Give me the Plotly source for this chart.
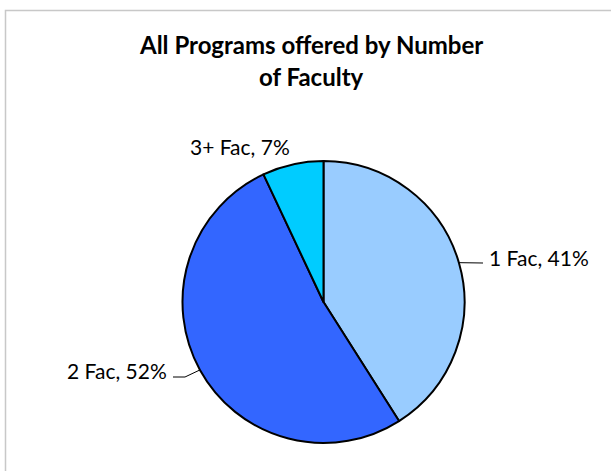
import math
import plotly.graph_objects as go

labels = ["1 Fac", "2 Fac", "3+ Fac"]
values = [41, 52, 7]
colors = ["#99CCFF", "#3366FF", "#00CCFF"]
title_lines = ["All Programs offered by Number", "of Faculty"]

W, H = 611, 471
CX, CY, R = 323.5, 302, 141


def px(x):
    return x / W


def py(y):
    return 1 - y / H


fig = go.Figure(go.Pie(
    labels=labels,
    values=values,
    sort=False,
    direction="clockwise",
    rotation=0,
    marker=dict(colors=colors, line=dict(color="black", width=2)),
    textinfo="none",
    hoverinfo="label+percent",
    showlegend=False,
    domain=dict(x=[px(CX - R), px(CX + R)], y=[py(CY + R), py(CY - R)]),
))

# slice mid-angles (clockwise from 12 o'clock) derived from the data
total = sum(values)
mids = []
acc = 0
for v in values:
    mids.append((acc + v / 2) / total * 2 * math.pi)
    acc += v


def edge(i):
    a = mids[i]
    return CX + R * math.sin(a), CY - R * math.cos(a)


FONT = "Lato, Open Sans, sans-serif"
font = dict(family=FONT, size=21, color="black")
label_pos = [  # (x, y, xanchor) in pixels
    (487, 257, "left"),
    (169, 370.5, "right"),
    (239.5, 147, "center"),
]
annotations = []
for i, (lab, v) in enumerate(zip(labels, values)):
    x, y, xa = label_pos[i]
    annotations.append(dict(
        x=px(x), y=py(y), xref="paper", yref="paper", text=f"{lab}, {v}%",
        showarrow=False, xanchor=xa, yanchor="middle", font=font,
    ))

for line, ty in zip(title_lines, [45, 77]):
    annotations.append(dict(
        x=px(311), y=py(ty), xref="paper", yref="paper",
        text=f"<b>{line}</b>", showarrow=False,
        xanchor="center", yanchor="middle",
        font=dict(family=FONT, size=24, color="black"),
    ))

shapes = [
    dict(type="rect", xref="paper", yref="paper", x0=px(5.5), y0=py(520),
         x1=px(680), y1=py(10.5), line=dict(color="#C8C8C8", width=1.5)),
]
# leader lines
e0 = edge(0)
shapes.append(dict(type="path", xref="paper", yref="paper",
                   path=f"M {px(e0[0])},{py(e0[1])} L {px(483)},{py(263)}",
                   line=dict(color="black", width=1)))
e1 = edge(1)
shapes.append(dict(type="path", xref="paper", yref="paper",
                   path=f"M {px(e1[0])},{py(e1[1])} L {px(185)},{py(377)} L {px(173)},{py(377)}",
                   line=dict(color="black", width=1)))

fig.update_layout(
    width=W, height=H,
    margin=dict(l=0, r=0, t=0, b=0),
    paper_bgcolor="white", plot_bgcolor="white",
    annotations=annotations, shapes=shapes,
)

fig.write_html("out.html", config={"displayModeBar": False},
               post_script="document.body.style.margin='0';")
